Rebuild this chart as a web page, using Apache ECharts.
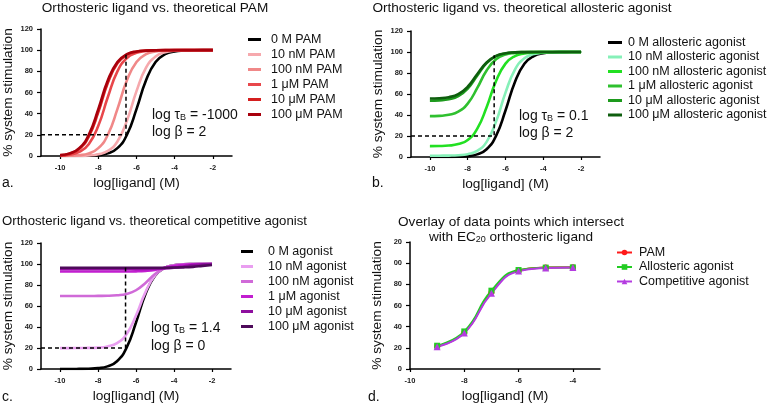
<!DOCTYPE html>
<html><head><meta charset="utf-8">
<script src="https://cdn.jsdelivr.net/npm/echarts@6/dist/echarts.min.js"></script>
<style>html,body{margin:0;padding:0;background:#fff}#c{width:772px;height:405px}</style>
</head><body><div id="c"></div>
<script>
// ---------- data ----------
const logX = [-10,-9.5,-9,-8.5,-8,-7.5,-7,-6.5,-6,-5.5,-5,-4.5,-4,-3.5,-3,-2.5,-2];
const xTicksABC = [-10,-8,-6,-4,-2];
const xTicksD = [-10,-8,-6,-4];

// panel a: PAM
const namesA = ['0 M PAM','10 nM PAM','100 nM PAM','1 μM PAM','10 μM PAM','100 μM PAM'];
const a0    = [0,0,0.1,0.3,0.8,2.5,7.4,20.1,44.3,71.5,88.8,96.2,98.8,99.6,99.9,100,100];
const a10n  = [0,0.1,0.2,0.5,1.6,4.8,13.7,33.4,61.3,83.4,94.1,98.0,99.4,99.8,99.9,100,100];
const a100n = [0.1,0.3,0.8,2.5,7.4,20.1,44.3,71.5,88.8,96.2,98.8,99.6,99.9,100,100,100,100];
const a1u   = [0.4,1.2,3.8,11.2,28.5,55.7,79.9,92.6,97.5,99.2,99.8,99.9,100,100,100,100,100];
const a10u  = [0.7,2.2,6.6,18.3,41.4,69.1,87.6,95.7,98.6,99.6,99.9,100,100,100,100,100,100];
const a100u = [0.8,2.5,7.4,20.1,44.3,71.5,88.8,96.2,98.8,99.6,99.9,100,100,100,100,100,100];

// panel b: allosteric agonist
const namesB = ['0 M allosteric agonist','10 nM allosteric agonist','100 nM allosteric agonist','1 μM allosteric agonist','10 μM allosteric agonist','100 μM allosteric agonist'];
const b0    = [0,0,0.1,0.3,0.8,2.5,7.4,20.1,44.3,71.5,88.8,96.2,98.8,99.6,99.9,100,100];
const b10n  = [1.2,1.25,1.35,1.7,2.7,5.8,14.4,33.7,61.3,83.2,94.0,98.0,99.4,99.8,99.9,100,100];
const b100n = [10.4,10.5,10.9,12.3,16.2,26.7,47.4,72.3,88.9,96.1,98.7,99.6,99.9,100,100,100,100];
const b1u   = [38.9,39.2,40.2,43.1,50.8,65.5,82.3,93.0,97.6,99.2,99.8,99.9,100,100,100,100,100];
const b10u  = [53.6,53.9,54.9,57.9,65.2,77.5,89.4,96.0,98.6,99.6,99.9,100,100,100,100,100,100];
const b100u = [55.7,56.0,57.0,59.9,66.9,78.8,90.0,96.3,98.8,99.6,99.9,100,100,100,100,100,100];

// panel c: competitive agonist
const namesC = ['0 M agonist','10 nM agonist','100 nM agonist','1 μM agonist','10 μM agonist','100 μM agonist'];
const c0    = [0,0,0.1,0.3,0.8,2.5,7.4,20.1,44.3,71.5,88.8,96.2,98.8,99.6,99.9,100,100];
const c10n  = [19.9,19.9,20.0,20.1,20.4,21.5,24.6,33.2,50.9,73.2,89.0,96.2,98.7,99.6,99.9,100,100];
const c100n = [69.5,69.5,69.5,69.5,69.6,69.7,70.2,71.5,75.0,82.0,90.4,96.2,98.7,99.6,99.9,100,100];
const c1u   = [92.8,92.8,92.8,92.8,92.8,92.8,92.8,92.9,93.0,93.4,94.4,96.3,98.1,99.3,99.8,99.9,100];
const c10u  = [95.4,95.4,95.4,95.4,95.4,95.4,95.4,95.4,95.4,95.4,95.5,95.8,96.5,97.6,98.9,99.6,99.9];
const c100u = [96.5,96.5,96.5,96.5,96.5,96.5,96.5,96.5,96.5,96.5,96.5,96.5,96.6,96.8,97.3,98.2,99.1];

// panel d: overlay
const namesD = ['PAM','Allosteric agonist','Competitive agonist'];
const dX    = [-9,-8,-7,-6,-5,-4];
const dPAM  = [21.5,34.5,72.5,93.0,95.8,96.2];
const dAllo = [22.0,35.5,74.0,93.5,95.8,96.0];
const dComp = [21.0,34.0,71.5,92.5,95.5,96.0];

// EC20 guide lines
const guideAX = [-11,-6.55,-6.55], guideAY = [20,20,97];
const guideBX = [-11,-6.6,-6.6],   guideBY = [20,20,97];
const guideCX = [-11,-6.55,-6.55], guideCY = [20,20,99];

// ---------- styling ----------
const F = '"Liberation Sans", Arial, Helvetica, sans-serif';
const colA = ['#000000','#f6a9ad','#f08888','#e8474b','#d41f1f','#a8000c'];
const colB = ['#000000','#86f0b8','#22e022','#2fc02f','#1d9a1d','#0e5e0e'];
const colC = ['#000000','#e99ef0','#d06ad8','#c21ed0','#8e0f9e','#4e0a5a'];
const colD = ['#ff1a1a','#22cc22','#b43ce0'];

const pair = (xa, ya) => xa.map((x, i) => [x, ya[i]]);

function curve(name, xa, ya, color, idx) {
  return {
    name, type: 'line', xAxisIndex: idx, yAxisIndex: idx,
    data: pair(xa, ya), symbol: 'none', showSymbol: false,
    smooth: true,
    lineStyle: { width: 2.6, color }, itemStyle: { color },
    silent: true, animation: false
  };
}
function guide(xa, ya, idx) {
  return {
    name: 'guide' + idx, type: 'line', xAxisIndex: idx, yAxisIndex: idx,
    data: pair(xa, ya), symbol: 'none', showSymbol: false,
    lineStyle: { width: 1.5, color: '#000', type: [4, 3] },
    silent: true, animation: false, z: 5
  };
}
function marked(name, ya, color, sym, size, idx) {
  return {
    name, type: 'line', xAxisIndex: idx, yAxisIndex: idx,
    data: pair(dX, ya), symbol: sym, symbolSize: size, showSymbol: true,
    smooth: true,
    lineStyle: { width: 2, color }, itemStyle: { color },
    silent: true, animation: false
  };
}

function xAx(idx, min, max, ticks) {
  return {
    gridIndex: idx, type: 'value', min, max,
    name: 'log[ligand] (M)', nameLocation: 'middle', nameGap: 20,
    nameTextStyle: { fontSize: 13.7, fontFamily: F, color: '#111' },
    axisLine: { lineStyle: { color: '#000', width: 1.5 } },
    axisTick: { show: true, length: 3, customValues: ticks, lineStyle: { color: '#000', width: 1.2 } },
    axisLabel: { customValues: ticks, fontSize: 7.5, fontWeight: 'bold', fontFamily: F, color: '#222', margin: 8 },
    splitLine: { show: false }
  };
}
function yAx(idx, fmt) {
  return {
    gridIndex: idx, type: 'value', min: 0, max: 120, interval: 20,
    name: '% system stimulation', nameLocation: 'middle', nameGap: 26,
    nameTextStyle: { fontSize: 13.7, fontFamily: F, color: '#111' },
    axisLine: { show: true, lineStyle: { color: '#000', width: 1.5 } },
    axisTick: { show: true, length: 4, lineStyle: { color: '#000', width: 1.2 } },
    axisLabel: { fontSize: 7.5, fontWeight: 'bold', fontFamily: F, color: '#222', margin: 8, formatter: fmt },
    splitLine: { show: false }
  };
}
function legend(names, left, top, iw, pad, gap) {
  return {
    data: names, orient: 'vertical', left, top, selectedMode: false,
    icon: 'rect', itemWidth: iw, itemHeight: 3, itemGap: gap,
    textStyle: { fontSize: 12.5, lineHeight: 13, fontFamily: F, color: '#111', padding: [0, 0, 0, pad] }
  };
}

const series = [];
[a0,a10n,a100n,a1u,a10u,a100u].forEach((y, i) => series.push(curve(namesA[i], logX, y, colA[i], 0)));
[b0,b10n,b100n,b1u,b10u,b100u].forEach((y, i) => series.push(curve(namesB[i], logX, y, colB[i], 1)));
[c0,c10n,c100n,c1u,c10u,c100u].forEach((y, i) => series.push(curve(namesC[i], logX, y, colC[i], 2)));
series.push(guide(guideAX, guideAY, 0));
series.push(guide(guideBX, guideBY, 1));
series.push(guide(guideCX, guideCY, 2));
series.push(marked(namesD[0], dPAM, colD[0], 'circle', 6, 3));
series.push(marked(namesD[1], dAllo, colD[1], 'rect', 6, 3));
series.push(marked(namesD[2], dComp, colD[2], 'triangle', 7, 3));

const txt = (x, y, text, size, align) => ({
  type: 'text', x, y, silent: true,
  style: { text, fontSize: size, fontFamily: F, fill: '#111', align: align || 'left', verticalAlign: 'middle' }
});
const richTxt = (x, y, text, align) => ({
  type: 'text', x, y, silent: true,
  style: {
    text, align: align || 'left', verticalAlign: 'middle', fontSize: 14, fontFamily: F, fill: '#111',
    rich: {
      n: { fontSize: 14, fontFamily: F, fill: '#111' },
      t: { fontSize: 13.6, fontFamily: F, fill: '#111' },
      s: { fontSize: 9, fontFamily: F, fill: '#111', padding: [6, 0, 0, 0] }
    }
  }
});

const dLegend = legend(namesD, 611, 241, 15, 2, 1.5);
delete dLegend.icon;
dLegend.itemHeight = 7;

const option = {
  backgroundColor: '#fff',
  animation: false,
  grid: [
    { left: 41, top: 29, width: 191, height: 127 },
    { left: 411, top: 31, width: 189, height: 126 },
    { left: 41, top: 243, width: 190, height: 126 },
    { left: 410, top: 242, width: 190, height: 127 }
  ],
  xAxis: [xAx(0, -11, -1, xTicksABC), xAx(1, -11, -1, xTicksABC), xAx(2, -11, -1, xTicksABC), xAx(3, -10, -3, xTicksD)],
  yAxis: [yAx(0), yAx(1), yAx(2), yAx(3, v => (v >= 100 ? String(v).slice(1) : String(v)))],
  legend: [
    legend(namesA, 243, 28, 13, 5, 2),
    legend(namesB, 603, 31, 14, 1, 1.5),
    legend(namesC, 236, 240, 12, 10, 2),
    dLegend
  ],
  graphic: [
    txt(155, 8, 'Orthosteric ligand vs. theoretical PAM', 13.6, 'center'),
    txt(522, 8, 'Orthosteric ligand vs. theoretical allosteric agonist', 13.6, 'center'),
    txt(2, 221, 'Orthosteric ligand vs. theoretical competitive agonist', 13.2, 'left'),
    txt(511, 222, 'Overlay of data points which intersect', 13.6, 'center'),
    richTxt(511, 237, '{t|with EC}{s|20}{t| orthosteric ligand}', 'center'),
    richTxt(152, 115, '{n|log τ}{s|B}{n| = -1000}'),
    txt(152, 132, 'log β = 2', 14),
    richTxt(519, 116, '{n|log τ}{s|B}{n| = 0.1}'),
    txt(519, 133, 'log β = 2', 14),
    richTxt(151, 328, '{n|log τ}{s|B}{n| = 1.4}'),
    txt(151, 346, 'log β = 0', 14),
    txt(2, 183, 'a.', 14),
    txt(372, 183, 'b.', 14),
    txt(2, 397, 'c.', 14),
    txt(368, 397, 'd.', 14)
  ],
  series
};

const chart = echarts.init(document.getElementById('c'), null, { renderer: 'canvas' });
chart.setOption(option);
</script>
</body></html>
